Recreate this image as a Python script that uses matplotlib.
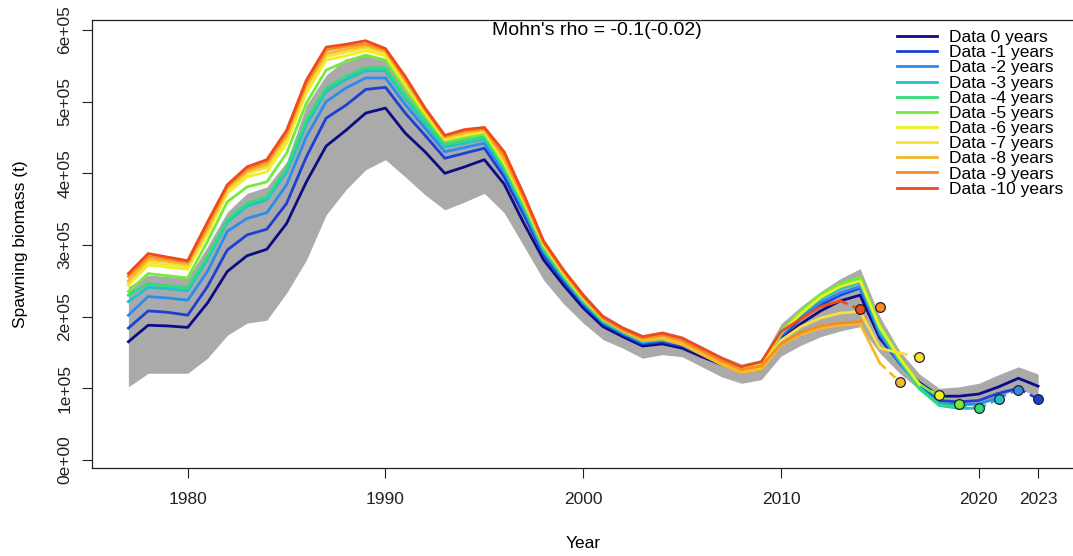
import numpy as np
import matplotlib.pyplot as plt

plt.rcParams['font.family'] = ['Liberation Sans', 'DejaVu Sans']

years = np.arange(1977, 2024)

# spawning biomass in units of 1e5 t, one list per retrospective peel
peel_0 = [1.65, 1.88, 1.87, 1.85, 2.19,
          2.63, 2.85, 2.94, 3.30, 3.88,
          4.38, 4.60, 4.84, 4.91, 4.56,
          4.30, 4.00, 4.09, 4.19, 3.85,
          3.30, 2.79, 2.44, 2.12, 1.86,
          1.72, 1.59, 1.62, 1.56, 1.44,
          1.33, 1.23, 1.26, 1.68, 1.90,
          2.08, 2.22, 2.30, 1.70, 1.36,
          1.08, 0.89, 0.89, 0.92, 1.02,
          1.14, 1.03]
peel_1 = [1.84, 2.08, 2.06, 2.02, 2.42,
          2.93, 3.14, 3.22, 3.58, 4.23,
          4.77, 4.95, 5.17, 5.20, 4.84,
          4.53, 4.21, 4.28, 4.35, 3.95,
          3.42, 2.86, 2.50, 2.17, 1.90,
          1.75, 1.62, 1.65, 1.59, 1.47,
          1.36, 1.26, 1.29, 1.72, 1.97,
          2.16, 2.30, 2.40, 1.74, 1.35,
          1.04, 0.83, 0.81, 0.83, 0.93,
          1.00]
peel_2 = [2.02, 2.28, 2.26, 2.23, 2.63,
          3.19, 3.37, 3.45, 3.84, 4.51,
          5.00, 5.19, 5.33, 5.33, 4.96,
          4.63, 4.30, 4.36, 4.42, 4.02,
          3.48, 2.90, 2.53, 2.19, 1.92,
          1.77, 1.64, 1.67, 1.61, 1.49,
          1.37, 1.27, 1.30, 1.74, 2.00,
          2.20, 2.33, 2.42, 1.76, 1.36,
          1.02, 0.79, 0.77, 0.78, 0.87]
peel_3 = [2.21, 2.41, 2.39, 2.36, 2.80,
          3.32, 3.54, 3.63, 4.02, 4.68,
          5.14, 5.31, 5.43, 5.43, 5.05,
          4.70, 4.37, 4.42, 4.48, 4.06,
          3.52, 2.93, 2.55, 2.21, 1.93,
          1.78, 1.65, 1.68, 1.62, 1.50,
          1.38, 1.28, 1.31, 1.76, 2.03,
          2.25, 2.39, 2.48, 1.80, 1.38,
          1.00, 0.76, 0.72, 0.72]
peel_4 = [2.30, 2.46, 2.43, 2.40, 2.84,
          3.35, 3.58, 3.67, 4.07, 4.74,
          5.19, 5.35, 5.47, 5.47, 5.08,
          4.73, 4.40, 4.45, 4.51, 4.08,
          3.54, 2.95, 2.56, 2.22, 1.94,
          1.79, 1.66, 1.69, 1.63, 1.51,
          1.38, 1.28, 1.31, 1.77, 2.05,
          2.28, 2.43, 2.52, 1.83, 1.40,
          0.99, 0.77, 0.74]
peel_5 = [2.35, 2.60, 2.57, 2.54, 3.05,
          3.60, 3.81, 3.88, 4.28, 4.98,
          5.44, 5.56, 5.65, 5.58, 5.18,
          4.80, 4.45, 4.50, 4.55, 4.12,
          3.58, 2.98, 2.58, 2.24, 1.96,
          1.81, 1.68, 1.71, 1.65, 1.52,
          1.39, 1.29, 1.33, 1.79, 2.08,
          2.31, 2.46, 2.55, 1.88, 1.43,
          1.06, 0.88]
peel_6 = [2.44, 2.72, 2.69, 2.66, 3.15,
          3.72, 3.95, 4.02, 4.42, 5.12,
          5.58, 5.64, 5.71, 5.64, 5.23,
          4.84, 4.47, 4.53, 4.58, 4.15,
          3.60, 3.00, 2.60, 2.25, 1.97,
          1.82, 1.69, 1.72, 1.65, 1.52,
          1.39, 1.28, 1.32, 1.77, 2.04,
          2.27, 2.42, 2.50, 1.85, 1.42,
          1.05]
peel_7 = [2.47, 2.76, 2.73, 2.70, 3.18,
          3.76, 4.00, 4.08, 4.48, 5.18,
          5.63, 5.69, 5.75, 5.67, 5.26,
          4.86, 4.49, 4.55, 4.60, 4.18,
          3.62, 3.01, 2.61, 2.26, 1.97,
          1.81, 1.68, 1.70, 1.63, 1.49,
          1.36, 1.25, 1.29, 1.67, 1.86,
          1.98, 2.05, 2.07, 1.56, 1.49]
peel_8 = [2.50, 2.80, 2.77, 2.73, 3.22,
          3.79, 4.03, 4.12, 4.52, 5.22,
          5.67, 5.73, 5.78, 5.70, 5.29,
          4.88, 4.50, 4.57, 4.61, 4.20,
          3.63, 3.02, 2.62, 2.27, 1.97,
          1.80, 1.67, 1.69, 1.61, 1.47,
          1.33, 1.22, 1.26, 1.60, 1.75,
          1.84, 1.88, 1.90, 1.35]
peel_9 = [2.56, 2.84, 2.80, 2.76, 3.27,
          3.82, 4.06, 4.16, 4.56, 5.26,
          5.72, 5.77, 5.81, 5.72, 5.32,
          4.90, 4.52, 4.59, 4.62, 4.25,
          3.67, 3.04, 2.64, 2.28, 1.98,
          1.82, 1.70, 1.74, 1.66, 1.52,
          1.38, 1.26, 1.31, 1.62, 1.78,
          1.87, 1.91, 1.93]
peel_10 = [2.60, 2.88, 2.83, 2.78, 3.32,
           3.84, 4.09, 4.19, 4.60, 5.30,
           5.76, 5.80, 5.85, 5.74, 5.35,
           4.91, 4.53, 4.61, 4.64, 4.30,
           3.70, 3.05, 2.65, 2.30, 2.00,
           1.84, 1.72, 1.77, 1.70, 1.56,
           1.42, 1.30, 1.37, 1.79, 1.97,
           2.14, 2.22]

# confidence band of the full model
ci_low = [1.02, 1.21, 1.21, 1.21, 1.42,
          1.74, 1.91, 1.95, 2.33, 2.79,
          3.42, 3.77, 4.05, 4.19, 3.95,
          3.70, 3.49, 3.60, 3.72, 3.45,
          2.98, 2.51, 2.18, 1.91, 1.68,
          1.56, 1.42, 1.47, 1.44, 1.30,
          1.16, 1.07, 1.12, 1.45, 1.60,
          1.72, 1.80, 1.86, 1.49, 1.21,
          0.98, 0.79, 0.78, 0.80, 0.88,
          1.00, 0.88]
ci_high = [2.42, 2.58, 2.56, 2.54, 2.98,
           3.46, 3.72, 3.81, 4.16, 4.95,
           5.37, 5.60, 5.65, 5.58, 5.15,
           4.80, 4.45, 4.55, 4.60, 4.25,
           3.65, 3.08, 2.68, 2.33, 2.03,
           1.87, 1.75, 1.80, 1.73, 1.59,
           1.45, 1.34, 1.40, 1.90, 2.14,
           2.35, 2.53, 2.67, 2.00, 1.52,
           1.20, 1.00, 1.02, 1.07, 1.19,
           1.30, 1.20]

# forecast-year points for peels -1 ... -10
fc_years = [2023, 2022, 2021, 2020, 2019, 2018, 2017, 2016, 2015, 2014]
fc_values = [0.85, 0.98, 0.85, 0.73, 0.78, 0.90, 1.44, 1.09, 2.13, 2.10]

peels = [peel_0, peel_1, peel_2, peel_3, peel_4, peel_5,
         peel_6, peel_7, peel_8, peel_9, peel_10]
labels = ["Data 0 years"] + ["Data -%d years" % i for i in range(1, 11)]
colors = ['#0c0c86', '#1c40d6', '#2b8cee', '#1ec2cf', '#2ede78', '#74ea3a',
          '#eef020', '#f7e03c', '#f7b82a', '#f78c26', '#ef4a1c']

fig = plt.figure(figsize=(10.73, 5.56), dpi=100)
ax = fig.add_axes([92 / 1073, 1 - 468 / 556, 982.5 / 1073, 448 / 556])

ax.fill_between(years, np.array(ci_low) * 1e5, np.array(ci_high) * 1e5,
                color='#aaaaaa', lw=0, zorder=1)

handles = []
for i, vals in enumerate(peels):
    n = len(vals)
    h, = ax.plot(years[:n], np.array(vals) * 1e5, color=colors[i], lw=2.0,
                 label=labels[i], zorder=2 + i * 0.01)
    handles.append(h)
    if i > 0:
        fy, fv = fc_years[i - 1], fc_values[i - 1]
        ax.plot([years[n - 1], fy], [vals[-1] * 1e5, fv * 1e5], ls=(0, (3, 2)),
                color=colors[i], lw=1.9, zorder=2)
        ax.plot(fy, fv * 1e5, 'o', mfc=colors[i], mec='#222222', ms=7,
                mew=0.9, zorder=5)

ax.set_xlim(1975.16, 2024.84)
ax.set_ylim(-0.112e5, 6.139e5)
ax.set_xticks([1980, 1990, 2000, 2010, 2020, 2023])
ax.set_yticks(np.arange(0, 7) * 1e5)
ax.set_yticklabels(['0e+00', '1e+05', '2e+05', '3e+05', '4e+05', '5e+05', '6e+05'],
                   rotation=90, va='center')
ax.tick_params(axis='both', direction='out', length=7, width=0.8, labelsize=12.5,
               colors='#222222')
ax.tick_params(axis='x', pad=10)
ax.tick_params(axis='y', pad=7)
for s in ax.spines.values():
    s.set_linewidth(0.9)
    s.set_color('#222222')

ax.set_xlabel("Year", fontsize=12.5)
ax.set_ylabel("Spawning biomass (t)", fontsize=12.5)
ax.xaxis.set_label_coords(0.5, -0.152)
ax.yaxis.set_label_coords(-0.065, 0.5)

ax.text(0.514, 0.976, "Mohn's rho = -0.1(-0.02)", transform=ax.transAxes,
        ha='center', va='center', fontsize=14)

ax.legend(handles=handles, loc='upper left', bbox_to_anchor=(897 / 1073, 1 - 30 / 556),
          bbox_transform=fig.transFigure, frameon=False, fontsize=12.5,
          handlelength=2.3, handletextpad=0.7, labelspacing=0.0,
          borderpad=0, borderaxespad=0)

fig.savefig("out.png", dpi=100)
